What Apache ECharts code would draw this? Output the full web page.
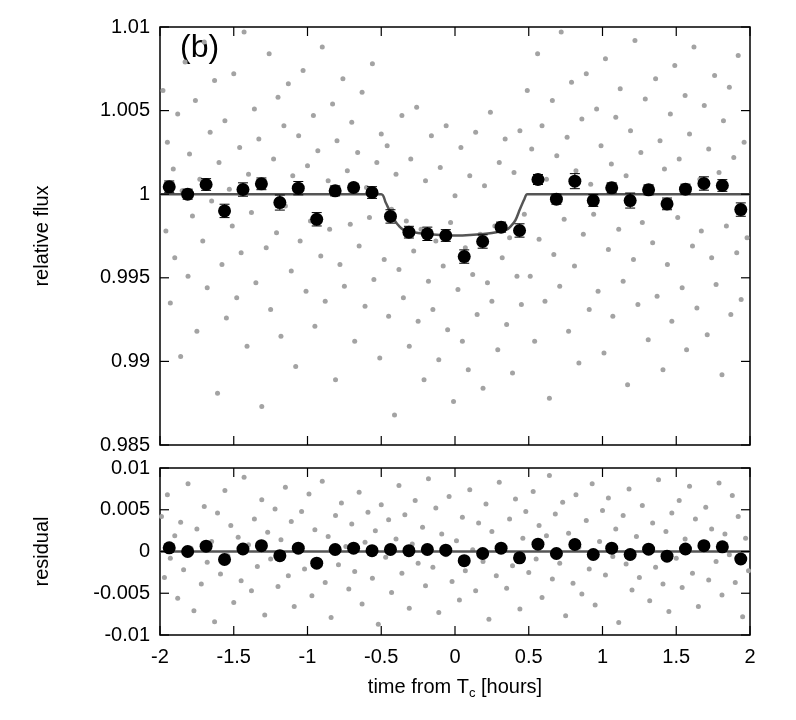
<!DOCTYPE html>
<html>
<head>
<meta charset="utf-8">
<script src="https://cdn.jsdelivr.net/npm/echarts@6/dist/echarts.min.js"></script>
<style>html,body{margin:0;background:#fff}#main{width:796px;height:720px}</style>
</head>
<body>
<div id="main"></div>
<script>
// binned data, bin centres every 0.125 h
var binX = [-1.9375,-1.8125,-1.6875,-1.5625,-1.4375,-1.3125,-1.1875,-1.0625,-0.9375,-0.8125,-0.6875,-0.5625,-0.4375,-0.3125,-0.1875,-0.0625,
  0.0625,0.1875,0.3125,0.4375,0.5625,0.6875,0.8125,0.9375,1.0625,1.1875,1.3125,1.4375,1.5625,1.6875,1.8125,1.9375];
var binFlux = [1.00044,1.0000,1.00058,0.99900,1.00028,1.00062,0.99950,1.00036,0.99850,1.0002,1.0004,1.0001,0.99867,0.99773,0.99763,0.99753,
  0.99627,0.99717,0.99803,0.99783,1.00088,0.9997,1.00078,0.99962,1.00038,0.99962,1.00026,0.99942,1.0003,1.00064,1.00052,0.99908];
var binResid = [0.00044,0,0.00064,-0.00096,0.0003,0.0007,-0.0005,0.0004,-0.0014,0.00024,0.0004,0.0001,0.00024,0.0001,0.00024,0.00016,
  -0.0011,-0.00024,0.0004,-0.00076,0.00088,-0.00024,0.00084,-0.00036,0.0004,-0.00036,0.00028,-0.00056,0.0003,0.0007,0.00056,-0.0009];
var binErr = [0.00035,0.0003,0.00035,0.0004,0.0004,0.00035,0.00045,0.0004,0.0004,0.0003,0.00025,0.00035,0.0004,0.00035,0.0004,0.00035,
  0.0004,0.0004,0.0003,0.0004,0.0003,0.0003,0.00045,0.00035,0.0003,0.00045,0.0003,0.00035,0.0003,0.0004,0.00035,0.0004];

// tick positions
var ticksX = [-2,-1.5,-1,-0.5,0,0.5,1,1.5,2];
var ticksFlux = [0.985,0.99,0.995,1,1.005,1.01];
var ticksResid = [-0.01,-0.005,0,0.005,0.01];

// transit model
var modelX = [-2,-0.5,-0.47,-0.44,-0.41,-0.38,-0.35,-0.25,-0.1,0,0.1,0.25,0.35,0.38,0.41,0.44,0.47,0.49,2];
var modelY = [1,1,0.9995,0.99895,0.99845,0.9981,0.99788,0.99768,0.99756,0.99753,0.99756,0.99768,0.99788,0.9981,0.99845,0.9991,0.9997,1,1];

// unbinned photometry (read approximately)
var rawFlux = [[-1.98,1.0062],[-1.96,0.9978],[-1.95,1.0031],[-1.93,0.9935],[-1.91,1.0015],[-1.9,0.9962],[-1.88,1.0048],[-1.86,0.9903],[-1.85,1.0002],[-1.83,1.0079],[-1.81,0.9951],[-1.8,1.0024],[-1.78,0.9987],[-1.76,1.0056],[-1.75,0.9918],[-1.73,1.0009],[-1.71,0.9972],[-1.7,1.0091],[-1.68,0.9944],[-1.66,1.0037],[-1.65,0.9996],[-1.63,1.0068],[-1.61,0.9881],[-1.6,1.0019],[-1.58,0.9958],[-1.56,1.0044],[-1.55,0.9926],[-1.53,1.0003],[-1.51,0.9981],[-1.5,1.0072],[-1.48,0.9938],[-1.46,1.0028],[-1.45,0.9965],[-1.43,1.0097],[-1.41,0.9909],[-1.4,1.0012],[-1.38,0.9989],[-1.36,1.0051],[-1.35,0.9947],[-1.33,1.0033],[-1.31,0.9873],[-1.3,1.0006],[-1.28,0.9968],[-1.26,1.0084],[-1.25,0.9931],[-1.23,1.0021],[-1.21,0.9977],[-1.2,1.0058],[-1.18,0.9915],[-1.16,1.0041],[-1.15,0.9993],[-1.13,1.0066],[-1.11,0.9954],[-1.1,1.0011],[-1.08,0.9897],[-1.06,1.0035],[-1.05,0.9972],[-1.03,1.0074],[-1.01,0.9942],[-1.0,1.0017],
[-0.98,0.9984],[-0.96,1.0047],[-0.95,0.9921],[-0.93,1.0026],[-0.91,0.9963],[-0.9,1.0088],[-0.88,0.9936],[-0.86,1.0008],[-0.85,0.9979],[-0.83,1.0054],[-0.81,0.9889],[-0.8,1.0032],[-0.78,0.9958],[-0.76,1.0069],[-0.75,0.9945],[-0.73,1.0014],[-0.71,0.9982],[-0.7,1.0043],[-0.68,0.9912],[-0.66,1.0025],[-0.65,0.9969],[-0.63,1.0061],[-0.61,0.9933],[-0.6,1.0004],[-0.58,0.9986],[-0.56,1.0078],[-0.55,0.9949],[-0.53,1.0019],[-0.51,0.9902],[-0.5,1.0036],
[-0.48,0.9961],[-0.46,1.0029],[-0.45,0.9927],[-0.43,0.9991],[-0.41,0.9868],[-0.4,1.0012],[-0.38,0.9955],[-0.36,1.0047],[-0.35,0.9938],[-0.33,0.9984],[-0.31,0.9909],[-0.3,1.0021],[-0.28,0.9966],[-0.26,1.0052],[-0.25,0.9924],[-0.23,0.9979],[-0.21,0.9889],[-0.2,1.0008],[-0.18,0.9948],[-0.16,1.0035],[-0.15,0.9931],[-0.13,0.9972],[-0.11,0.9901],[-0.1,1.0016],[-0.08,0.9957],[-0.06,1.0041],[-0.05,0.9919],[-0.03,0.9983],[-0.01,0.9876],[0.0,0.9999],[0.02,0.9943],[0.04,1.0028],[0.05,0.9912],[0.07,0.9968],[0.09,0.9895],[0.1,1.0011],[0.12,0.9952],[0.14,1.0037],[0.15,0.9928],[0.17,0.9976],[0.19,0.9884],[0.2,1.0005],[0.22,0.9947],[0.24,1.0049],[0.25,0.9936],[0.27,0.9981],[0.29,0.9907],[0.3,1.0019],[0.32,0.9962],[0.34,1.0033],[0.35,0.9922],[0.37,0.9974],[0.39,0.9893],[0.4,1.0013],[0.42,0.9951],[0.44,1.0038],[0.45,0.9934],[0.47,0.9988],
[0.49,1.0062],[0.51,0.9951],[0.52,1.0027],[0.54,0.9912],[0.56,1.0084],[0.57,0.9973],[0.59,1.0041],[0.61,0.9936],[0.62,1.0009],[0.64,0.9878],[0.66,1.0056],[0.67,0.9964],[0.69,1.0023],[0.71,0.9945],[0.72,1.0097],[0.74,0.9985],[0.76,1.0034],[0.77,0.9918],[0.79,1.0067],[0.81,0.9957],[0.82,1.0014],[0.84,0.9899],[0.86,1.0045],[0.87,0.9976],[0.89,1.0072],[0.91,0.9931],[0.92,1.0006],[0.94,0.9988],[0.96,1.0051],[0.97,0.9942],[0.99,1.0029],[1.01,0.9905],[1.02,1.0081],[1.04,0.9967],[1.06,1.0018],[1.07,0.9927],[1.09,1.0046],[1.11,0.9979],[1.12,1.0063],[1.14,0.9948],[1.16,1.0011],[1.17,0.9886],[1.19,1.0038],[1.21,0.9961],[1.22,1.0092],[1.24,0.9934],[1.26,1.0025],[1.27,0.9983],[1.29,1.0057],[1.31,0.9913],[1.32,1.0003],[1.34,0.9971],[1.36,1.0069],[1.37,0.9939],[1.39,1.0032],[1.41,0.9895],[1.42,1.0015],[1.44,0.9958],[1.46,1.0048],[1.47,0.9924],[1.49,1.0077],[1.51,0.9986],[1.52,1.0021],[1.54,0.9944],[1.56,1.0059],[1.57,0.9907],[1.59,1.0036],[1.61,0.9969],[1.62,1.0088],[1.64,0.9932],[1.66,1.0009],[1.67,0.9978],[1.69,1.0053],[1.71,0.9916],[1.72,1.0027],[1.74,0.9962],[1.76,1.0071],[1.77,0.9946],[1.79,1.0013],[1.81,0.9892],[1.82,1.0044],[1.84,0.9981],[1.86,1.0064],[1.87,0.9928],[1.89,1.0022],[1.91,0.9965],[1.92,1.0083],[1.94,0.9937],[1.96,1.0031],[1.98,0.9974]];

var rawResid = [[-1.99,0.0042],[-1.97,-0.0031],[-1.95,0.0068],[-1.93,-0.0008],[-1.9,0.0019],[-1.88,-0.0056],[-1.86,0.0035],[-1.84,-0.0022],[-1.81,0.0081],[-1.79,0.0004],[-1.77,-0.0071],[-1.75,0.0027],[-1.72,-0.0039],[-1.7,0.0054],[-1.68,-0.0013],[-1.65,0.0012],[-1.63,-0.0084],[-1.61,0.0046],[-1.59,-0.0027],[-1.56,0.0073],[-1.54,-0.0005],[-1.52,0.0031],[-1.5,-0.0061],[-1.47,0.0017],[-1.45,-0.0035],[-1.43,0.0089],[-1.4,0.0008],[-1.38,-0.0047],[-1.36,0.0039],[-1.34,-0.0018],[-1.31,0.0062],[-1.29,-0.0076],[-1.27,0.0023],[-1.25,-0.0009],[-1.22,0.0051],[-1.2,-0.0042],[-1.18,0.0014],[-1.15,0.0077],[-1.13,-0.0029],[-1.11,0.0036],[-1.09,-0.0066],[-1.06,0.0003],[-1.04,0.0048],[-1.02,-0.0021],[-0.99,0.0069],[-0.97,-0.0053],[-0.95,0.0026],[-0.93,-0.0011],[-0.9,0.0084],[-0.88,-0.0037],[-0.86,0.0018],[-0.84,-0.0079],[-0.81,0.0043],[-0.79,-0.0016],[-0.77,0.0058],[-0.74,0.0006],[-0.72,-0.0045],[-0.7,0.0033],[-0.68,-0.0024],[-0.65,0.0071],[-0.63,-0.0063],[-0.61,0.0011],[-0.59,0.0047],[-0.56,-0.0032],[-0.54,0.0025],[-0.52,-0.0087],[-0.5,0.0056],[-0.47,-0.0007],[-0.45,0.0038],[-0.43,-0.0049],[-0.4,0.0015],[-0.38,0.0079],[-0.36,-0.0026],[-0.34,0.0044],[-0.31,-0.0068],[-0.29,0.0009],[-0.27,0.0061],[-0.25,-0.0014],[-0.22,0.0029],[-0.2,-0.0041],[-0.18,0.0087],[-0.15,-0.0019],[-0.13,0.0052],[-0.11,-0.0073],[-0.09,0.0021],[-0.06,-0.0004],[-0.04,0.0066],[-0.02,-0.0036],[0.01,0.0013],[0.03,-0.0058],[0.05,0.0041],[0.07,-0.0023],[0.1,0.0074],[0.12,0.0002],[0.14,-0.0047],[0.16,0.0034],[0.19,-0.0012],[0.21,0.0057],[0.23,-0.0081],[0.25,0.0024],[0.28,-0.0029],[0.3,0.0083],[0.32,0.0007],[0.35,-0.0044],[0.37,0.0039],[0.39,-0.0017],[0.41,0.0063],[0.44,-0.0069],[0.46,0.0016],[0.48,0.0048],[0.5,-0.0025],[0.53,0.0072],[0.55,-0.0009],[0.57,0.0031],[0.59,-0.0055],[0.62,0.0019],[0.64,0.0091],[0.66,-0.0033],[0.68,0.0045],[0.71,-0.0014],[0.73,0.0059],[0.75,-0.0077],[0.77,0.0022],[0.8,-0.0038],[0.82,0.0068],[0.84,0.0005],[0.86,-0.0051],[0.89,0.0037],[0.91,-0.0021],[0.93,0.0081],[0.95,-0.0064],[0.98,0.0012],[1.0,0.0049],[1.02,-0.0028],[1.04,0.0064],[1.07,-0.0006],[1.09,0.0027],[1.11,-0.0085],[1.14,0.0043],[1.16,-0.0015],[1.18,0.0075],[1.2,-0.0046],[1.23,0.0018],[1.25,-0.0031],[1.27,0.0055],[1.29,0.0001],[1.32,-0.0059],[1.34,0.0034],[1.36,-0.0019],[1.38,0.0086],[1.41,-0.0039],[1.43,0.0024],[1.45,-0.0072],[1.47,0.0046],[1.5,-0.0008],[1.52,0.0061],[1.54,-0.0043],[1.56,0.0015],[1.59,0.0078],[1.61,-0.0026],[1.63,0.0039],[1.65,-0.0066],[1.68,0.0011],[1.7,0.0053],[1.72,-0.0034],[1.74,0.0027],[1.77,-0.0012],[1.79,0.0082],[1.81,-0.0052],[1.83,0.0021],[1.86,-0.0004],[1.88,0.0067],[1.9,-0.0037],[1.92,0.0042],[1.95,-0.0078],[1.97,0.0016],[1.99,-0.0023]];

var chart = echarts.init(document.getElementById('main'));
var font = 'Liberation Sans';
var lbl = {color:'#000', fontSize:20, fontFamily:font};

function fmt(v) { return String(+v.toFixed(3)); }

function errBars(vals) {
  return binX.map(function (x, i) { return [x, vals[i] - binErr[i], vals[i] + binErr[i]]; });
}
function renderErr(params, api) {
  var lo = api.coord([api.value(0), api.value(1)]);
  var hi = api.coord([api.value(0), api.value(2)]);
  var w = 5;
  var st = {stroke:'#000', lineWidth:1};
  return {type:'group', children:[
    {type:'line', shape:{x1:lo[0], y1:lo[1], x2:hi[0], y2:hi[1]}, style:st},
    {type:'line', shape:{x1:lo[0]-w, y1:lo[1], x2:lo[0]+w, y2:lo[1]}, style:st},
    {type:'line', shape:{x1:hi[0]-w, y1:hi[1], x2:hi[0]+w, y2:hi[1]}, style:st}
  ]};
}
// inward tick marks: one custom item per tick, drawn with the series' own scales
function tickSeries(ai, ymin, ymax, yTicks) {
  var data = ticksX.map(function (v) { return [v, (ymin + ymax) / 2, 0]; })
    .concat(yTicks.map(function (v) { return [0, v, 1]; }));
  return {type:'custom', xAxisIndex:ai, yAxisIndex:ai, data:data, silent:true, z:20, clip:false,
    encode:{x:0, y:1},
    renderItem:function (params, api) {
      var L = 9, st = {stroke:'#000', lineWidth:1.2};
      var kind = api.value(2);
      if (kind === 0) {
        var b = api.coord([api.value(0), ymin]), t = api.coord([api.value(0), ymax]);
        return {type:'group', children:[
          {type:'line', shape:{x1:b[0], y1:b[1], x2:b[0], y2:b[1] - L}, style:st},
          {type:'line', shape:{x1:t[0], y1:t[1], x2:t[0], y2:t[1] + L}, style:st}]};
      }
      var l = api.coord([-2, api.value(1)]), r = api.coord([2, api.value(1)]);
      return {type:'group', children:[
        {type:'line', shape:{x1:l[0], y1:l[1], x2:l[0] + L, y2:l[1]}, style:st},
        {type:'line', shape:{x1:r[0], y1:r[1], x2:r[0] - L, y2:r[1]}, style:st}]};
    }};
}
function xAx(grid, showLabel) {
  return {type:'value', gridIndex:grid, min:-2, max:2, interval:0.5,
    axisLine:{show:false, onZero:false}, splitLine:{show:false}, axisTick:{show:false},
    axisLabel:{show:showLabel, margin:12, ...lbl}};
}
function yAx(grid, min, max, name) {
  return {type:'value', gridIndex:grid, min:min, max:max, interval:0.005,
    axisLine:{show:false, onZero:false}, splitLine:{show:false}, axisTick:{show:false},
    axisLabel:{margin:10, formatter:fmt, ...lbl},
    name:name, nameLocation:'middle', nameGap:108, nameTextStyle:lbl};
}

var xb = xAx(1, true);
xb.name = 'time from T{s|c} [hours]';
xb.nameLocation = 'middle';
xb.nameGap = 40;
xb.nameTextStyle = {...lbl, rich:{s:{fontSize:13, fontFamily:font, padding:[12,0,0,0]}}};

chart.setOption({
  backgroundColor:'#fff',
  animation:false,
  grid:[
    {left:160, right:46, top:27, height:418, show:true, borderColor:'#000', borderWidth:1.5},
    {left:160, right:46, top:468, height:167, show:true, borderColor:'#000', borderWidth:1.5}
  ],
  xAxis:[xAx(0, false), xb],
  yAxis:[yAx(0, 0.985, 1.01, 'relative flux'), yAx(1, -0.01, 0.01, 'residual')],
  graphic:[{type:'text', left:180, top:32, style:{text:'(b)', fontSize:32, fontFamily:font, fill:'#000'}}],
  series:[
    {type:'scatter', xAxisIndex:0, yAxisIndex:0, data:rawFlux, symbolSize:5, itemStyle:{color:'#a3a3a3', opacity:1}},
    {type:'line', xAxisIndex:0, yAxisIndex:0, data:modelX.map(function (x, i) { return [x, modelY[i]]; }),
      showSymbol:false, smooth:0.3, lineStyle:{color:'#555', width:2.5}},
    {type:'custom', xAxisIndex:0, yAxisIndex:0, data:errBars(binFlux), renderItem:renderErr, z:5},
    {type:'scatter', xAxisIndex:0, yAxisIndex:0, data:binX.map(function (x, i) { return [x, binFlux[i]]; }),
      symbolSize:13, itemStyle:{color:'#000', opacity:1}, z:6},
    tickSeries(0, 0.985, 1.01, ticksFlux),
    {type:'scatter', xAxisIndex:1, yAxisIndex:1, data:rawResid, symbolSize:5, itemStyle:{color:'#a3a3a3', opacity:1}},
    {type:'line', xAxisIndex:1, yAxisIndex:1, data:[[-2,0],[2,0]], showSymbol:false, lineStyle:{color:'#555', width:2.5}},
    {type:'custom', xAxisIndex:1, yAxisIndex:1, data:errBars(binResid), renderItem:renderErr, z:5},
    {type:'scatter', xAxisIndex:1, yAxisIndex:1, data:binX.map(function (x, i) { return [x, binResid[i]]; }),
      symbolSize:13, itemStyle:{color:'#000', opacity:1}, z:6},
    tickSeries(1, -0.01, 0.01, ticksResid)
  ]
});
</script>
</body>
</html>
